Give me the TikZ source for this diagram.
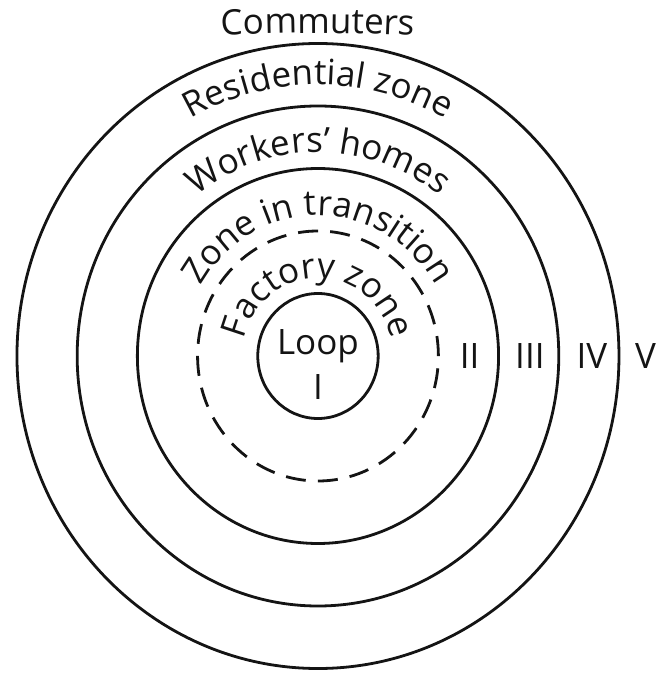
\documentclass[tikz,border=0pt]{standalone}
\usepackage{fontspec}
\setmainfont{Open Sans}
\usepackage{tikz}
\usetikzlibrary{decorations.text}
\definecolor{ringInk}{RGB}{20, 20, 20}
\newcommand{\zonefont}{\fontsize{17.5}{20}\selectfont}
\tikzset{
  ring/.style={draw=ringInk, line width=1.4pt},
  dashring/.style={ring, dash pattern=on 10pt off 6.06pt},
  numeral/.style={font=\zonefont, text=ringInk, inner sep=0pt},
  ringtext/.style={decorate, decoration={text along path, text align=center,
    text={|\zonefont\color{ringInk}|#1}}}
}

\begin{document}
\begin{tikzpicture}[x=30.1pt, y=31.25pt]
  \useasboundingbox (-5.282,-5.088) rectangle (5.631,5.696);

  % 1. Rings of the city
  \foreach \r in {1,3,4,5}
    \draw[ring] (0,0) circle (\r);
  \draw[dashring] (0,0) circle (2);

  % 2. Names of the zones, round the top
  \path[ringtext={Commuters}] (-2.4,5.07) .. controls (-0.8,5.2) and (0.8,5.2) .. (2.4,5.07);
  \path[ringtext={Residential zone}] (180:4.34) arc (180:0:4.34);
  \path[ringtext={Workers’ homes}] (180:3.26) arc (180:0:3.26);
  \path[ringtext={Zone in transition}] (180:2.25) arc (180:0:2.25);
  \path[ringtext={Factory zone}] (180:1.25) arc (180:0:1.25);

  % 3. Centre and numerals
  \node[numeral, anchor=base] (loop) at (0,0.02) {Loop};
  \node[numeral, anchor=base] (one) at (0,-0.70) {I};
  \node[numeral] (two) at (2.52,0) {II};
  \node[numeral] (three) at (3.52,0) {III};
  \node[numeral] (four) at (4.55,0) {IV};
  \node[numeral] (five) at (5.44,0) {V};
\end{tikzpicture}
\end{document}
